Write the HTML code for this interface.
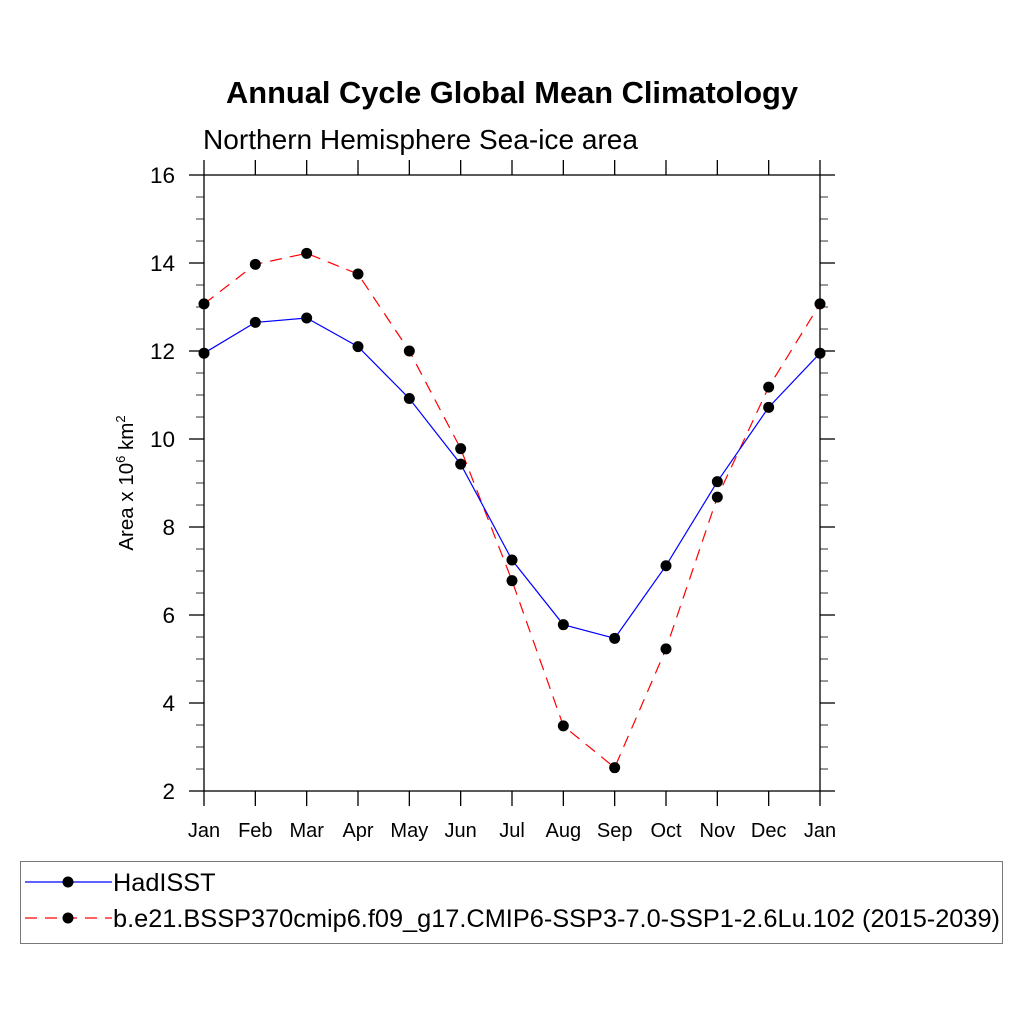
<!DOCTYPE html>
<html><head><meta charset="utf-8"><style>
html,body{margin:0;padding:0;background:#fff}
svg{display:block;font-family:"Liberation Sans",sans-serif}
</style></head><body>
<svg width="1024" height="1024" viewBox="0 0 1024 1024">
<text x="512" y="103" text-anchor="middle" font-size="30.5" font-weight="bold" textLength="572" lengthAdjust="spacingAndGlyphs">Annual Cycle Global Mean Climatology</text>
<text x="203" y="149" font-size="27.5" textLength="435" lengthAdjust="spacingAndGlyphs">Northern Hemisphere Sea-ice area</text>
<g id="axes"></g>
<g id="series"></g>
<text transform="translate(133,483) rotate(-90)" text-anchor="middle" font-size="20.5">Area x 10<tspan dy="-8" font-size="13">6</tspan><tspan dy="8"> km</tspan><tspan dy="-8" font-size="13">2</tspan></text>
<rect x="20.5" y="861.5" width="982" height="82" fill="none" stroke="#777" stroke-width="1"/>
<g>
<line x1="25" y1="882" x2="112" y2="882" stroke="#0000ff" stroke-width="1.2"/>
<circle cx="68" cy="882" r="5.5" fill="#000"/>
<text x="113" y="891" font-size="25.3">HadISST</text>
</g>
<g>
<line x1="25" y1="918" x2="112" y2="918" stroke="#ff0000" stroke-width="1.2" stroke-dasharray="12,8"/>
<circle cx="68" cy="918" r="5.5" fill="#000"/>
<text x="113" y="927" font-size="25.3" textLength="887" lengthAdjust="spacingAndGlyphs">b.e21.BSSP370cmip6.f09_g17.CMIP6-SSP3-7.0-SSP1-2.6Lu.102 (2015-2039)</text>
</g>
</svg>
<script>
const months=["Jan","Feb","Mar","Apr","May","Jun","Jul","Aug","Sep","Oct","Nov","Dec","Jan"];
const hadisst=[11.95,12.65,12.75,12.1,10.92,9.43,7.25,5.78,5.47,7.12,9.03,10.72,11.95];
const model=[13.07,13.97,14.22,13.75,12.0,9.78,6.78,3.48,2.53,5.23,8.68,11.18,13.07];
const yTicks=[2,4,6,8,10,12,14,16];
const NS="http://www.w3.org/2000/svg";
const X0=204,X1=820,Y0=791,Y1=175,ymin=2,ymax=16;
function xs(i){return X0+(X1-X0)*i/(months.length-1);}
function ys(v){return Y0-(v-ymin)/(ymax-ymin)*(Y0-Y1);}
function mk(p,tag,a){const e=document.createElementNS(NS,tag);for(const k in a)e.setAttribute(k,a[k]);p.appendChild(e);return e;}
const ax=document.getElementById('axes');
const fr=mk(ax,'rect',{x:X0,y:Y1,width:X1-X0,height:Y0-Y1,fill:'none',stroke:'#000','stroke-width':1.3});


months.forEach((m,i)=>{const x=xs(i);
mk(ax,'line',{x1:x,y1:Y0,x2:x,y2:Y0+15,stroke:'#000','stroke-width':1.3});
mk(ax,'line',{x1:x,y1:Y1,x2:x,y2:Y1-15,stroke:'#000','stroke-width':1.3});
const t=mk(ax,'text',{x:x,y:Y0+46,'text-anchor':'middle','font-size':20});t.textContent=m;

});
for(let v=ymin;v<=ymax;v+=0.5){const y=ys(v);const major=yTicks.includes(v);const L=major?15:8;
mk(ax,'line',{x1:X0,y1:y,x2:X0-L,y2:y,stroke:'#000','stroke-width':major?1.3:0.8});
mk(ax,'line',{x1:X1,y1:y,x2:X1+L,y2:y,stroke:'#000','stroke-width':major?1.3:0.8});}
yTicks.forEach(v=>{const t=mk(ax,'text',{x:X0-29,y:ys(v)+8,'text-anchor':'end','font-size':22.5});t.textContent=v;

});
const sg=document.getElementById('series');
function draw(data,color,dash,name){
const pts=data.map((v,i)=>xs(i)+','+ys(v)).join(' ');
const pl=mk(sg,'polyline',{points:pts,fill:'none',stroke:color,'stroke-width':1.2,'stroke-dasharray':dash});


data.forEach((v,i)=>{const c=mk(sg,'circle',{cx:xs(i),cy:ys(v),r:5.5,fill:'#000'});

});}
draw(model,'#ff0000','12,8','model');
draw(hadisst,'#0000ff','none','hadisst');
</script>
</body></html>
